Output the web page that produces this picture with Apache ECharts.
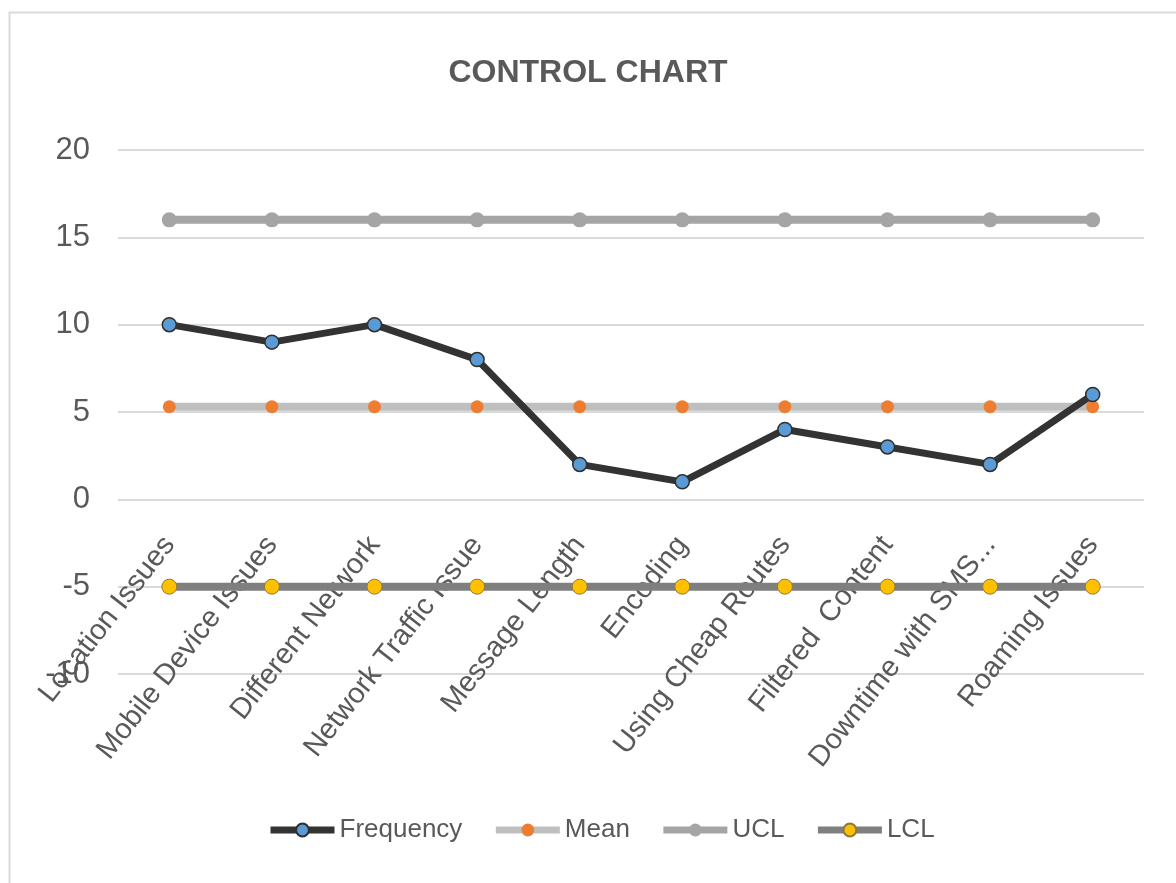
<!DOCTYPE html>
<html>
<head>
<meta charset="utf-8">
<script src="https://cdn.jsdelivr.net/npm/echarts@6/dist/echarts.min.js"></script>
<style>
html,body{margin:0;padding:0;background:#fff;}
#chart{width:1176px;height:883px;}
</style>
</head>
<body>
<div id="chart"></div>
<script>
const categories = ["Location Issues","Mobile Device Issues","Different Network","Network Traffic Issue","Message Length","Encoding","Using Cheap Routes","Filtered  Content","Downtime with SMS...","Roaming Issues"];
const frequency = [10, 9, 10, 8, 2, 1, 4, 3, 2, 6];
const mean = [5.3, 5.3, 5.3, 5.3, 5.3, 5.3, 5.3, 5.3, 5.3, 5.3];
const ucl = [16, 16, 16, 16, 16, 16, 16, 16, 16, 16];
const lcl = [-5, -5, -5, -5, -5, -5, -5, -5, -5, -5];
const yTicks = { min: -10, max: 20, interval: 5 };

const FONT = '"Liberation Sans", Arial, sans-serif';
const TXT = '#595959';

const chart = echarts.init(document.getElementById('chart'), null, { renderer: 'canvas' });
chart.setOption({
  backgroundColor: '#ffffff',
  animation: false,
  graphic: [{
    type: 'rect', left: 7, top: 10, z: -10, silent: true,
    shape: { width: 1300, height: 1000 },
    style: { fill: 'none', stroke: '#d9d9d9', lineWidth: 2 }
  }],
  title: {
    text: 'CONTROL CHART',
    left: 'center',
    top: 52,
    textStyle: { fontFamily: FONT, fontSize: 32, fontWeight: 'bold', color: TXT }
  },
  legend: {
    bottom: 35,
    left: 262,
    itemWidth: 64,
    itemHeight: 16,
    itemGap: 30,
    lineStyle: { width: 7 },
    textStyle: { fontFamily: FONT, fontSize: 26, color: TXT },
    data: ['Frequency', 'Mean', 'UCL', 'LCL']
  },
  grid: { left: 118, right: 32, top: 150, bottom: 209, outerBoundsMode: 'none', containLabel: false },
  xAxis: {
    type: 'category',
    data: categories,
    boundaryGap: true,
    offset: -176,
    axisLine: { show: false, onZero: false },
    axisTick: { show: false },
    axisLabel: {
      rotate: 52,
      interval: 0,
      margin: 42,
      fontFamily: FONT,
      fontSize: 29,
      color: TXT
    }
  },
  yAxis: {
    type: 'value',
    min: yTicks.min,
    max: yTicks.max,
    interval: yTicks.interval,
    axisLine: { show: false },
    axisTick: { show: false },
    axisLabel: { fontFamily: FONT, fontSize: 31, color: TXT, margin: 28 },
    splitLine: { lineStyle: { color: '#d9d9d9', width: 2 } }
  },
  series: [
    {
      name: 'Frequency', type: 'line', data: frequency, z: 4,
      symbol: 'circle', symbolSize: 14,
      lineStyle: { color: '#333333', width: 7 },
      itemStyle: { color: '#5B9BD5', borderColor: '#2f2f2f', borderWidth: 1.5 }
    },
    {
      name: 'Mean', type: 'line', data: mean, z: 3,
      symbol: 'circle', symbolSize: 13,
      lineStyle: { color: '#BFBFBF', width: 8 },
      itemStyle: { color: '#ED7D31', borderWidth: 0 }
    },
    {
      name: 'UCL', type: 'line', data: ucl, z: 3,
      symbol: 'circle', symbolSize: 15,
      lineStyle: { color: '#A5A5A5', width: 8 },
      itemStyle: { color: '#A5A5A5', borderWidth: 0 }
    },
    {
      name: 'LCL', type: 'line', data: lcl, z: 3,
      symbol: 'circle', symbolSize: 15,
      lineStyle: { color: '#7F7F7F', width: 8 },
      itemStyle: { color: '#FFC000', borderColor: '#8a7a40', borderWidth: 1 }
    }
  ]
});
</script>
</body>
</html>
